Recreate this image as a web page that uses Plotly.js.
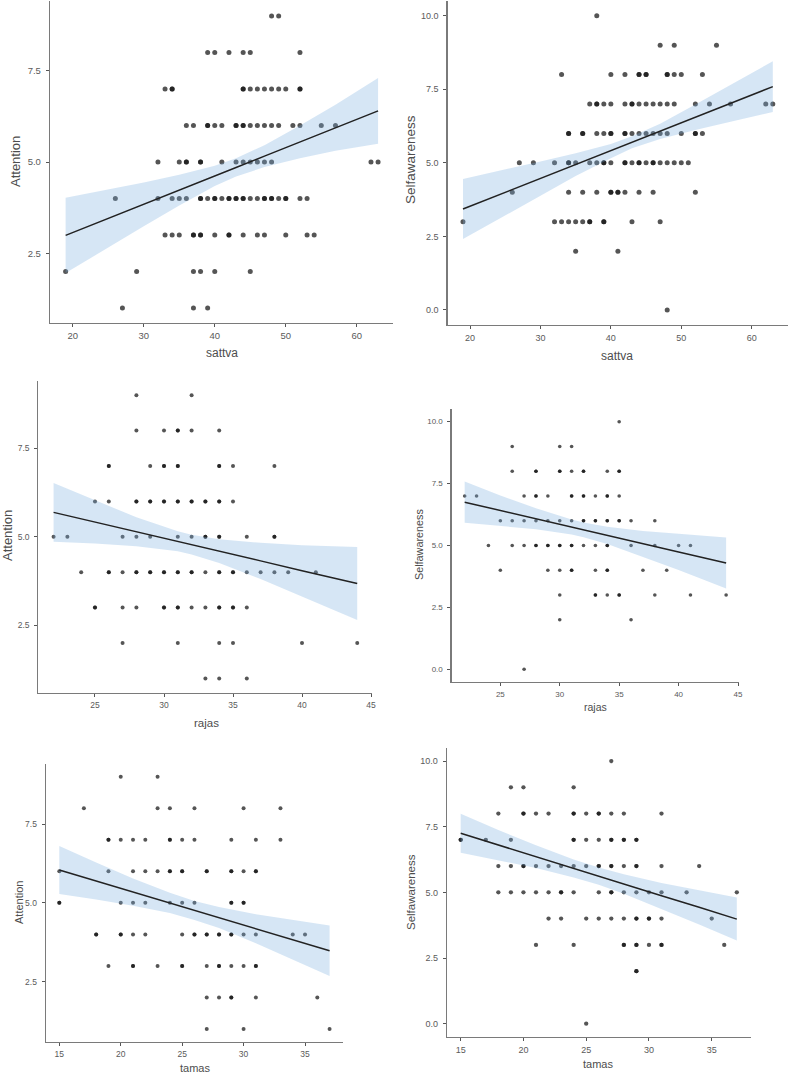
<!DOCTYPE html>
<html>
<head>
<meta charset="utf-8">
<script src="https://cdn.plot.ly/plotly-3.0.1.min.js"></script>
<style>html,body{margin:0;padding:0;background:#fff;}#chart{width:790px;height:1076px;}</style>
</head>
<body>
<div id="chart"></div>
<script>
// ---------- data ----------
const attLevels  = [9, 8, 7, 6, 5, 4, 3, 2, 1];
const selfLevels = [10, 9, 8, 7, 6, 5, 4, 3, 2, 0];

// sattva vs Attention (x values grouped by Attention level)
const sattvaByAtt = [
  [48, 49],
  [39, 40, 42, 44, 45, 52],
  [33, 34, 34, 44, 44, 45, 46, 47, 48, 49, 50, 52, 52],
  [36, 37, 39, 39, 40, 41, 43, 43, 44, 44, 45, 46, 47, 48, 49, 51, 52, 55, 57],
  [32, 35, 36, 36, 38, 38, 41, 43, 44, 45, 46, 47, 48, 62, 63],
  [26, 32, 34, 35, 36, 38, 38, 39, 40, 40, 41, 42, 42, 43, 43, 44, 44, 45, 46, 47, 47, 48, 48, 49, 50, 50, 52, 53],
  [33, 34, 35, 37, 37, 38, 38, 40, 42, 42, 44, 46, 47, 50, 53, 54],
  [19, 29, 37, 38, 40, 45],
  [27, 37, 39]
];
// sattva vs Selfawareness
const sattvaBySelf = [
  [38],
  [47, 49, 55],
  [33, 40, 42, 44, 44, 45, 45, 48, 48, 49, 50, 53],
  [37, 38, 38, 39, 40, 42, 43, 43, 44, 45, 46, 47, 48, 49, 52, 54, 57, 62, 63],
  [34, 34, 36, 36, 38, 39, 40, 40, 42, 42, 43, 44, 45, 46, 47, 48, 50, 52, 52, 53],
  [27, 29, 32, 34, 34, 35, 37, 38, 39, 39, 40, 42, 42, 43, 44, 44, 45, 46, 46, 47, 48, 49, 50, 51],
  [26, 34, 36, 38, 40, 40, 41, 41, 42, 44, 46, 52],
  [19, 32, 33, 34, 35, 36, 37, 37, 39, 39, 43, 47],
  [35, 41],
  [48]
];
// rajas vs Attention
const rajasByAtt = [
  [28, 32],
  [28, 30, 31, 31, 32, 34],
  [26, 26, 29, 30, 30, 31, 31, 34, 34, 35, 38],
  [25, 26, 28, 28, 29, 29, 30, 30, 31, 31, 32, 32, 33, 33, 34, 34, 35],
  [22, 23, 27, 28, 29, 31, 32, 33, 33, 34, 34, 36, 38, 38],
  [24, 26, 26, 27, 28, 28, 29, 29, 30, 30, 31, 31, 32, 32, 33, 34, 34, 35, 35, 36, 37, 38, 39, 41],
  [25, 25, 27, 28, 30, 30, 31, 31, 32, 33, 34, 34, 35, 35, 36],
  [27, 31, 34, 35, 40, 44],
  [33, 34, 36]
];
// rajas vs Selfawareness
const rajasBySelf = [
  [35],
  [26, 30, 31],
  [26, 28, 28, 30, 30, 31, 32, 32, 34, 35, 35],
  [22, 23, 27, 28, 28, 29, 31, 31, 32, 32, 33, 34, 34, 35],
  [25, 26, 27, 28, 29, 30, 31, 32, 32, 33, 33, 34, 34, 35, 35, 36, 38],
  [24, 26, 27, 28, 28, 29, 29, 30, 30, 31, 31, 32, 33, 34, 34, 36, 38, 40, 41],
  [25, 29, 30, 31, 31, 33, 34, 34, 37, 39],
  [30, 33, 33, 34, 35, 35, 38, 41, 44],
  [30, 36],
  [27]
];
// tamas vs Attention
const tamasByAtt = [
  [20, 23],
  [17, 23, 24, 26, 30, 33],
  [19, 19, 20, 21, 22, 24, 24, 25, 26, 29, 31, 33],
  [15, 19, 21, 22, 23, 24, 24, 25, 25, 27, 27, 29, 29, 30, 31, 31],
  [15, 15, 20, 21, 22, 24, 25, 26, 29, 29, 30, 30],
  [18, 18, 20, 20, 21, 22, 25, 26, 26, 27, 27, 28, 28, 29, 29, 30, 31, 34, 35],
  [19, 21, 21, 23, 25, 25, 27, 28, 28, 29, 30, 31, 31],
  [27, 28, 29, 29, 31, 36],
  [27, 30, 37]
];
// tamas vs Selfawareness
const tamasBySelf = [
  [27],
  [19, 20, 24],
  [18, 20, 20, 21, 22, 24, 24, 25, 26, 26, 27, 28, 31],
  [15, 15, 17, 19, 24, 24, 25, 26, 27, 27, 28, 28, 29, 29],
  [18, 19, 20, 20, 21, 22, 23, 24, 25, 26, 26, 27, 27, 28, 29, 29, 31, 34],
  [18, 19, 20, 21, 22, 23, 23, 24, 26, 27, 27, 28, 29, 30, 31, 33, 37],
  [22, 23, 25, 26, 27, 28, 29, 29, 30, 30, 31, 35],
  [21, 24, 28, 28, 29, 29, 30, 31, 31, 36],
  [29, 29],
  [25]
];

// fitted lines and 95% bands
const sattvaFitX   = [19, 25, 30, 35, 40, 43, 47, 52, 57, 63];
const sattvaAttFit = [2.99, 3.46, 3.84, 4.23, 4.62, 4.85, 5.16, 5.55, 5.94, 6.40];
const sattvaAttLo  = [1.96, 2.67, 3.24, 3.81, 4.34, 4.60, 4.86, 5.10, 5.31, 5.50];
const sattvaAttHi  = [4.02, 4.25, 4.44, 4.65, 4.90, 5.10, 5.46, 6.00, 6.57, 7.30];
const sattvaSelfFit = [3.43, 4.00, 4.47, 4.94, 5.40, 5.70, 6.07, 6.55, 7.02, 7.59];
const sattvaSelfLo  = [2.41, 3.22, 3.89, 4.55, 5.16, 5.50, 5.81, 6.12, 6.40, 6.73];
const sattvaSelfHi  = [4.45, 4.78, 5.05, 5.33, 5.64, 5.90, 6.33, 6.98, 7.64, 8.45];

const rajasFitX   = [22, 25, 28, 31, 32, 34, 37, 40, 44];
const rajasAttFit = [5.69, 5.42, 5.14, 4.87, 4.78, 4.59, 4.32, 4.04, 3.68];
const rajasAttLo  = [4.86, 4.81, 4.73, 4.59, 4.50, 4.26, 3.81, 3.32, 2.65];
const rajasAttHi  = [6.52, 6.03, 5.55, 5.16, 5.06, 4.93, 4.83, 4.76, 4.71];
const rajasSelfFit = [6.75, 6.41, 6.08, 5.74, 5.63, 5.41, 5.07, 4.74, 4.29];
const rajasSelfLo  = [5.92, 5.80, 5.66, 5.44, 5.33, 5.06, 4.55, 4.01, 3.26];
const rajasSelfHi  = [7.58, 7.02, 6.50, 6.05, 5.93, 5.76, 5.59, 5.47, 5.32];

const tamasFitX   = [15, 18, 21, 24, 26, 28, 31, 34, 37];
const tamasAttFit = [6.04, 5.69, 5.34, 5.00, 4.76, 4.53, 4.18, 3.83, 3.48];
const tamasAttLo  = [5.28, 5.11, 4.91, 4.68, 4.46, 4.20, 3.72, 3.21, 2.68];
const tamasAttHi  = [6.80, 6.28, 5.77, 5.32, 5.06, 4.87, 4.64, 4.45, 4.28];
const tamasSelfFit = [7.25, 6.80, 6.36, 5.91, 5.62, 5.32, 4.87, 4.43, 3.98];
const tamasSelfLo  = [6.51, 6.23, 5.93, 5.57, 5.29, 4.95, 4.38, 3.78, 3.17];
const tamasSelfHi  = [7.99, 7.37, 6.79, 6.25, 5.95, 5.69, 5.36, 5.08, 4.80];

const sattvaTicks = [20, 30, 40, 50, 60];
const rajasTicks  = [25, 30, 35, 40, 45];
const tamasTicks  = [15, 20, 25, 30, 35];
const attTicks    = [2.5, 5.0, 7.5];
const selfTicks   = [0, 2.5, 5.0, 7.5, 10.0];

// ---------- helpers ----------
function flatten(groups, levels) {
  const x = [], y = [];
  groups.forEach((g, i) => g.forEach(v => { x.push(v); y.push(levels[i]); }));
  return {x, y};
}
const W = 790, H = 1076;
const FONT = 'Liberation Sans, Arial, Helvetica, sans-serif';

const panels = [
  {groups: sattvaByAtt,  levels: attLevels,  fx: sattvaFitX, fy: sattvaAttFit,  lo: sattvaAttLo,  hi: sattvaAttHi,
   xr: [16.8, 65.1], yr: [0.6, 9.4], xt: sattvaTicks, yt: attTicks,
   px: [50, 393], py: [1.3, 322.7], ms: 5, tf: 9.5,
   xtitle: 'sattva', ytitle: 'Attention', xtp: [222, 353], ytp: [16, 162], xts: 12, yts: 13},
  {groups: sattvaBySelf, levels: selfLevels, fx: sattvaFitX, fy: sattvaSelfFit, lo: sattvaSelfLo, hi: sattvaSelfHi,
   xr: [16.8, 65.2], yr: [-0.5, 10.5], xt: sattvaTicks, yt: selfTicks,
   px: [447.5, 788.3], py: [1.0, 324.7], ms: 5, tf: 9,
   xtitle: 'sattva', ytitle: 'Selfawareness', xtp: [617, 356], ytp: [410, 160], xts: 12, yts: 13.5},
  {groups: rajasByAtt,   levels: attLevels,  fx: rajasFitX, fy: rajasAttFit,  lo: rajasAttLo,  hi: rajasAttHi,
   xr: [20.9, 45.1], yr: [0.6, 9.4], xt: rajasTicks, yt: attTicks,
   px: [38.4, 372.4], py: [381.0, 692.6], ms: 4, tf: 8.5,
   xtitle: 'rajas', ytitle: 'Attention', xtp: [206, 723], ytp: [7, 536], xts: 11.5, yts: 13},
  {groups: rajasBySelf,  levels: selfLevels, fx: rajasFitX, fy: rajasSelfFit, lo: rajasSelfLo, hi: rajasSelfHi,
   xr: [20.9, 45.1], yr: [-0.5, 10.5], xt: rajasTicks, yt: selfTicks,
   px: [451.6, 739.2], py: [409.3, 681.7], ms: 3.6, tf: 8,
   xtitle: 'rajas', ytitle: 'Selfawareness', xtp: [595, 707], ytp: [419, 545], xts: 10.5, yts: 10.8},
  {groups: tamasByAtt,   levels: attLevels,  fx: tamasFitX, fy: tamasAttFit,  lo: tamasAttLo,  hi: tamasAttHi,
   xr: [13.9, 38.1], yr: [0.6, 9.4], xt: tamasTicks, yt: attTicks,
   px: [45.8, 343.1], py: [764.1, 1041.6], ms: 4, tf: 8.5,
   xtitle: 'tamas', ytitle: 'Attention', xtp: [195, 1068], ytp: [19, 903], xts: 11, yts: 11},
  {groups: tamasBySelf,  levels: selfLevels, fx: tamasFitX, fy: tamasSelfFit, lo: tamasSelfLo, hi: tamasSelfHi,
   xr: [13.9, 38.1], yr: [-0.5, 10.5], xt: tamasTicks, yt: selfTicks,
   px: [446.9, 750.6], py: [747.9, 1036.8], ms: 4.3, tf: 9,
   xtitle: 'tamas', ytitle: 'Selfawareness', xtp: [598, 1064], ytp: [411, 892], xts: 11, yts: 11.5}
];

const traces = [];
const layout = {
  width: W, height: H, margin: {l: 0, r: 0, t: 0, b: 0},
  paper_bgcolor: '#ffffff', plot_bgcolor: '#ffffff',
  showlegend: false, font: {family: FONT, color: '#4d4d4d'},
  annotations: []
};

panels.forEach((p, i) => {
  const n = i + 1;
  const xa = 'x' + (n === 1 ? '' : n), ya = 'y' + (n === 1 ? '' : n);
  const pts = flatten(p.groups, p.levels);
  traces.push({
    type: 'scatter', mode: 'markers', x: pts.x, y: pts.y, xaxis: xa, yaxis: ya,
    marker: {size: p.ms, color: 'rgba(20,20,20,0.72)', line: {width: 0}},
    hoverinfo: 'skip'
  });
  traces.push({
    type: 'scatter', mode: 'lines', xaxis: xa, yaxis: ya,
    x: p.fx.concat(p.fx.slice().reverse()),
    y: p.lo.concat(p.hi.slice().reverse()),
    fill: 'toself', fillcolor: 'rgba(118,172,222,0.30)', line: {width: 0, color: 'rgba(0,0,0,0)'},
    hoverinfo: 'skip'
  });
  traces.push({
    type: 'scatter', mode: 'lines', x: p.fx, y: p.fy, xaxis: xa, yaxis: ya,
    line: {color: '#222222', width: 1.5}, hoverinfo: 'skip'
  });
  const axCommon = {
    showgrid: false, zeroline: false, showline: true, linecolor: '#7a7a7a', linewidth: 1.2,
    ticks: 'outside', ticklen: 3, tickwidth: 1, tickcolor: '#555555',
    tickfont: {family: FONT, size: p.tf, color: '#5a5a5a'}, fixedrange: true
  };
  layout['xaxis' + (n === 1 ? '' : n)] = Object.assign({}, axCommon, {
    domain: [p.px[0] / W, p.px[1] / W], range: p.xr, anchor: ya,
    tickmode: 'array', tickvals: p.xt, ticktext: p.xt.map(String), ticklabelstandoff: 1
  });
  layout['yaxis' + (n === 1 ? '' : n)] = Object.assign({}, axCommon, {
    domain: [1 - p.py[1] / H, 1 - p.py[0] / H], range: p.yr, anchor: xa,
    tickmode: 'array', tickvals: p.yt, ticktext: p.yt.map(v => v.toFixed(1)), ticklabelstandoff: 3
  });
  layout.annotations.push({
    xref: 'paper', yref: 'paper', x: p.xtp[0] / W, y: 1 - p.xtp[1] / H,
    xanchor: 'center', yanchor: 'middle', showarrow: false, text: p.xtitle,
    font: {family: FONT, size: p.xts, color: '#4d4d4d'}
  });
  layout.annotations.push({
    xref: 'paper', yref: 'paper', x: p.ytp[0] / W, y: 1 - p.ytp[1] / H,
    xanchor: 'center', yanchor: 'middle', showarrow: false, text: p.ytitle, textangle: -90,
    font: {family: FONT, size: p.yts, color: '#4d4d4d'}
  });
});

Plotly.newPlot('chart', traces, layout, {displayModeBar: false, staticPlot: true});
</script>
</body>
</html>
